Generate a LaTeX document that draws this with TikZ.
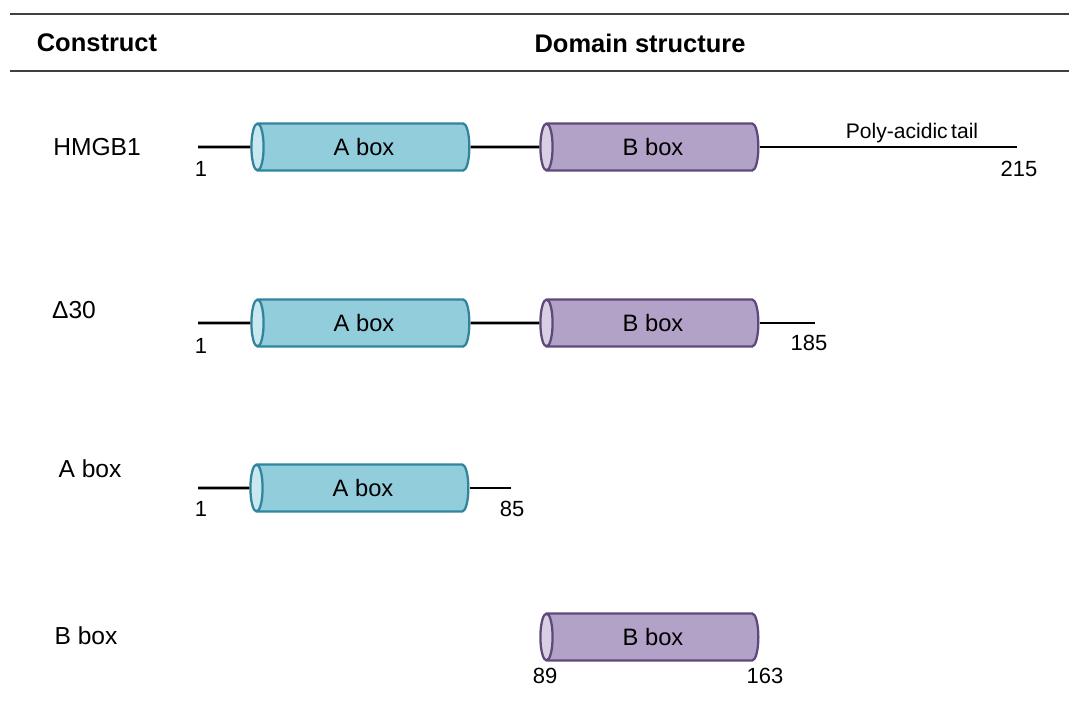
\documentclass[tikz,border=0pt]{standalone}
\usepackage{fontspec}
\setmainfont{Liberation Sans}
\usetikzlibrary{shapes.geometric}

\definecolor{aFill}{HTML}{92CDDC}
\definecolor{aEnd}{HTML}{C9E7EF}
\definecolor{aLine}{HTML}{31849B}
\definecolor{bFill}{HTML}{B2A2C7}
\definecolor{bEnd}{HTML}{D8CFE5}
\definecolor{bLine}{HTML}{5F497A}

\tikzset{
  dom/.style={cylinder, shape border rotate=180, aspect=0.7,
    minimum height=4.36cm, minimum width=0.94cm, line width=1.3pt,
    cylinder uses custom fill, font=\fontsize{13.5}{15}\selectfont, inner sep=0pt},
  abox/.style={dom, draw=aLine, cylinder body fill=aFill, cylinder end fill=aEnd},
  bbox/.style={dom, draw=bLine, cylinder body fill=bFill, cylinder end fill=bEnd},
  chain/.style={line width=1.7pt},
  num/.style={font=\fontsize{12.5}{14}\selectfont},
  rowlbl/.style={font=\fontsize{14}{16}\selectfont},
}

\begin{document}
\begin{tikzpicture}[x=0.02cm,y=-0.02cm]
        \useasboundingbox (0,0) rectangle (1069,706);

        % header
        \draw[line width=1pt,black!75](10,14)--(1069,14);
        \draw[line width=1pt,black!75](10,71)--(1069,71);
        \node[font=\fontsize{14.5}{17}\selectfont\bfseries] (hcon) at (97,43) {Construct};
        \node[font=\fontsize{14.5}{17}\selectfont\bfseries] (hdom) at (640,43) {Domain structure};

        % HMGB1
        \node[rowlbl] (l1) at (97,147) {HMGB1};
        \coordinate (s1) at (198,147);
        \coordinate (e1) at (1017,147);
        \node[abox] (a1) at (364,147) {A box};
        \node[bbox] (b1) at (653,147) {B box};
        \draw[chain](s1)--(a1);
        \draw[chain](a1)--(b1);
        \draw[chain](b1)--(e1);
        \node[num] (n1s) at (201,169) {1};
        \node[num] (n1e) at (1019,169) {215};
        \node[font=\fontsize{12}{14}\selectfont] (tail) at (912,133) {Poly-acidic\,tail};

        % delta 30
        \node[rowlbl] (l2) at (74,310) {Δ30};
        \coordinate (s2) at (198,323);
        \coordinate (e2) at (815,323);
        \node[abox] (a2) at (364,323) {A box};
        \node[bbox] (b2) at (653,323) {B box};
        \draw[chain](s2)--(a2);
        \draw[chain](a2)--(b2);
        \draw[chain](b2)--(e2);
        \node[num] (n2s) at (201,346) {1};
        \node[num] (n2e) at (809,343) {185};

        % A box
        \node[rowlbl] (l3) at (90,469) {A box};
        \coordinate (s3) at (198,488);
        \coordinate (e3) at (511,488);
        \node[abox] (a3) at (363,488) {A box};
        \draw[chain](s3)--(a3);
        \draw[chain](a3)--(e3);
        \node[num] (n3s) at (201,509) {1};
        \node[num] (n3e) at (512,509) {85};

        % B box
        \node[rowlbl] (l4) at (86,636) {B box};
        \node[bbox] (b4) at (653,637) {B box};
        \node[num] (n4s) at (545,676) {89};
        \node[num] (n4e) at (765,676) {163};
    \end{tikzpicture}
\end{document}
